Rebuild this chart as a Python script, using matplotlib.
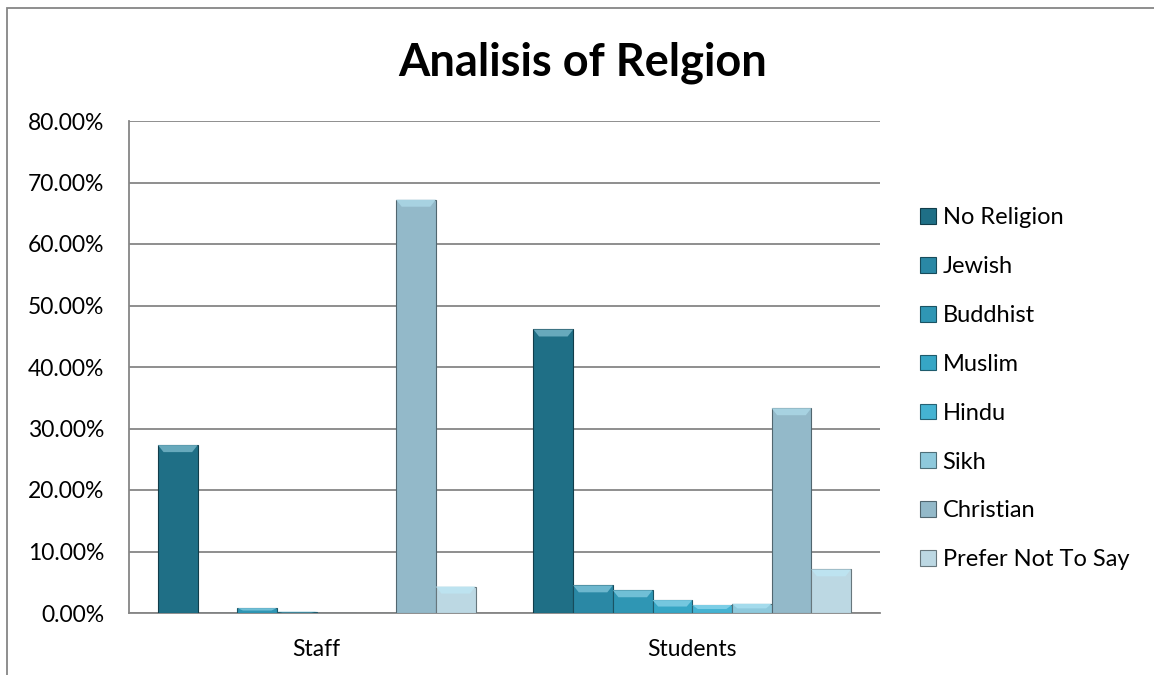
import matplotlib
matplotlib.use("Agg")
import matplotlib.pyplot as plt
import numpy as np
from matplotlib.patches import Rectangle, Polygon
from matplotlib.ticker import FuncFormatter

groups = ["Staff", "Students"]
religions = ["No Religion", "Jewish", "Buddhist", "Muslim", "Hindu", "Sikh",
             "Christian", "Prefer Not To Say"]
staff = [27.3, 0.0, 0.8, 0.2, 0.0, 0.0, 67.2, 4.3]
students = [46.1, 4.5, 3.7, 2.1, 1.3, 1.5, 33.3, 7.1]
colors = ["#1f6f86", "#2a88a5", "#2f96b4", "#36a6c5", "#45b3d2", "#8ec9dc",
          "#93b9c9", "#bcd8e3"]
title = "Analisis of Relgion"

plt.rcParams['font.family'] = ['Lato', 'DejaVu Sans']

fig = plt.figure(figsize=(11.54, 6.75), dpi=100)
ax = fig.add_axes([129/1154, 1-613/675, 751/1154, (613-121)/675])

values = np.array([staff, students])
n = len(religions)
width = 0.1057
x = np.arange(len(groups))

ax.set_xlim(-0.5, 1.5)
ax.set_ylim(0, 80)

def blend(c, target, f):
    rgb = np.array(matplotlib.colors.to_rgb(c))
    t = np.array(matplotlib.colors.to_rgb(target))
    return tuple(rgb + (t-rgb)*f)

def darken(c, f):
    rgb = np.array(matplotlib.colors.to_rgb(c))
    return tuple(rgb*(1-f))

for i, rel in enumerate(religions):
    pos = x + (i - (n-1)/2) * width
    bars = ax.bar(pos, values[:, i], width, color=colors[i], label=rel,
                  edgecolor=darken(colors[i], 0.45), linewidth=0.8, zorder=3)
    ax.set_xlim(-0.5, 1.5)
    ax.set_ylim(0, 80)
    px = ax.transData.transform([(0, 0), (0, 1)])
    per = px[1, 1] - px[0, 1]
    for b in bars:
        h = b.get_height()
        if h <= 0:
            continue
        x0, x1 = b.get_x(), b.get_x() + b.get_width()
        bh = min(7.0 / per, h / 2)
        bw = (x1 - x0) * 0.14
        top = Polygon([(x0, h), (x1, h), (x1 - bw, h - bh), (x0 + bw, h - bh)],
                      closed=True, facecolor=blend(colors[i], "#bff0ff", 0.45),
                      edgecolor='none', zorder=4)
        ax.add_patch(top)

ax.set_yticks(np.arange(0, 81, 10))
ax.yaxis.set_major_formatter(FuncFormatter(lambda v, p: f"{v:.2f}%"))
ax.set_xticks(x)
ax.set_xticklabels(groups)
ax.tick_params(axis='both', length=0, labelsize=16.5, colors='black')
ax.tick_params(axis='y', pad=18)
ax.tick_params(axis='x', pad=19)
ax.grid(axis='y', color='#868686', linewidth=1.3, zorder=0)
ax.set_axisbelow(True)
for s in ['top', 'right']:
    ax.spines[s].set_visible(False)
for s in ['left', 'bottom']:
    ax.spines[s].set_color('#868686')
    ax.spines[s].set_linewidth(1.3)

fig.text(583/1154, 1-63/675, title, ha='center', va='center',
         fontsize=32.5, fontweight='bold')

leg = fig.legend(loc='upper left', bbox_to_anchor=(899/1154, 1-186/675),
                 frameon=False, fontsize=17, handlelength=0.65,
                 handleheight=0.65, handletextpad=0.3, labelspacing=1.18)

fig.patches.append(Rectangle((7/1154, -0.05), 1.2, 1-8/675 + 0.05,
                             transform=fig.transFigure, fill=False,
                             edgecolor='#868686', linewidth=1.3))

fig.savefig("out.png", dpi=100)
